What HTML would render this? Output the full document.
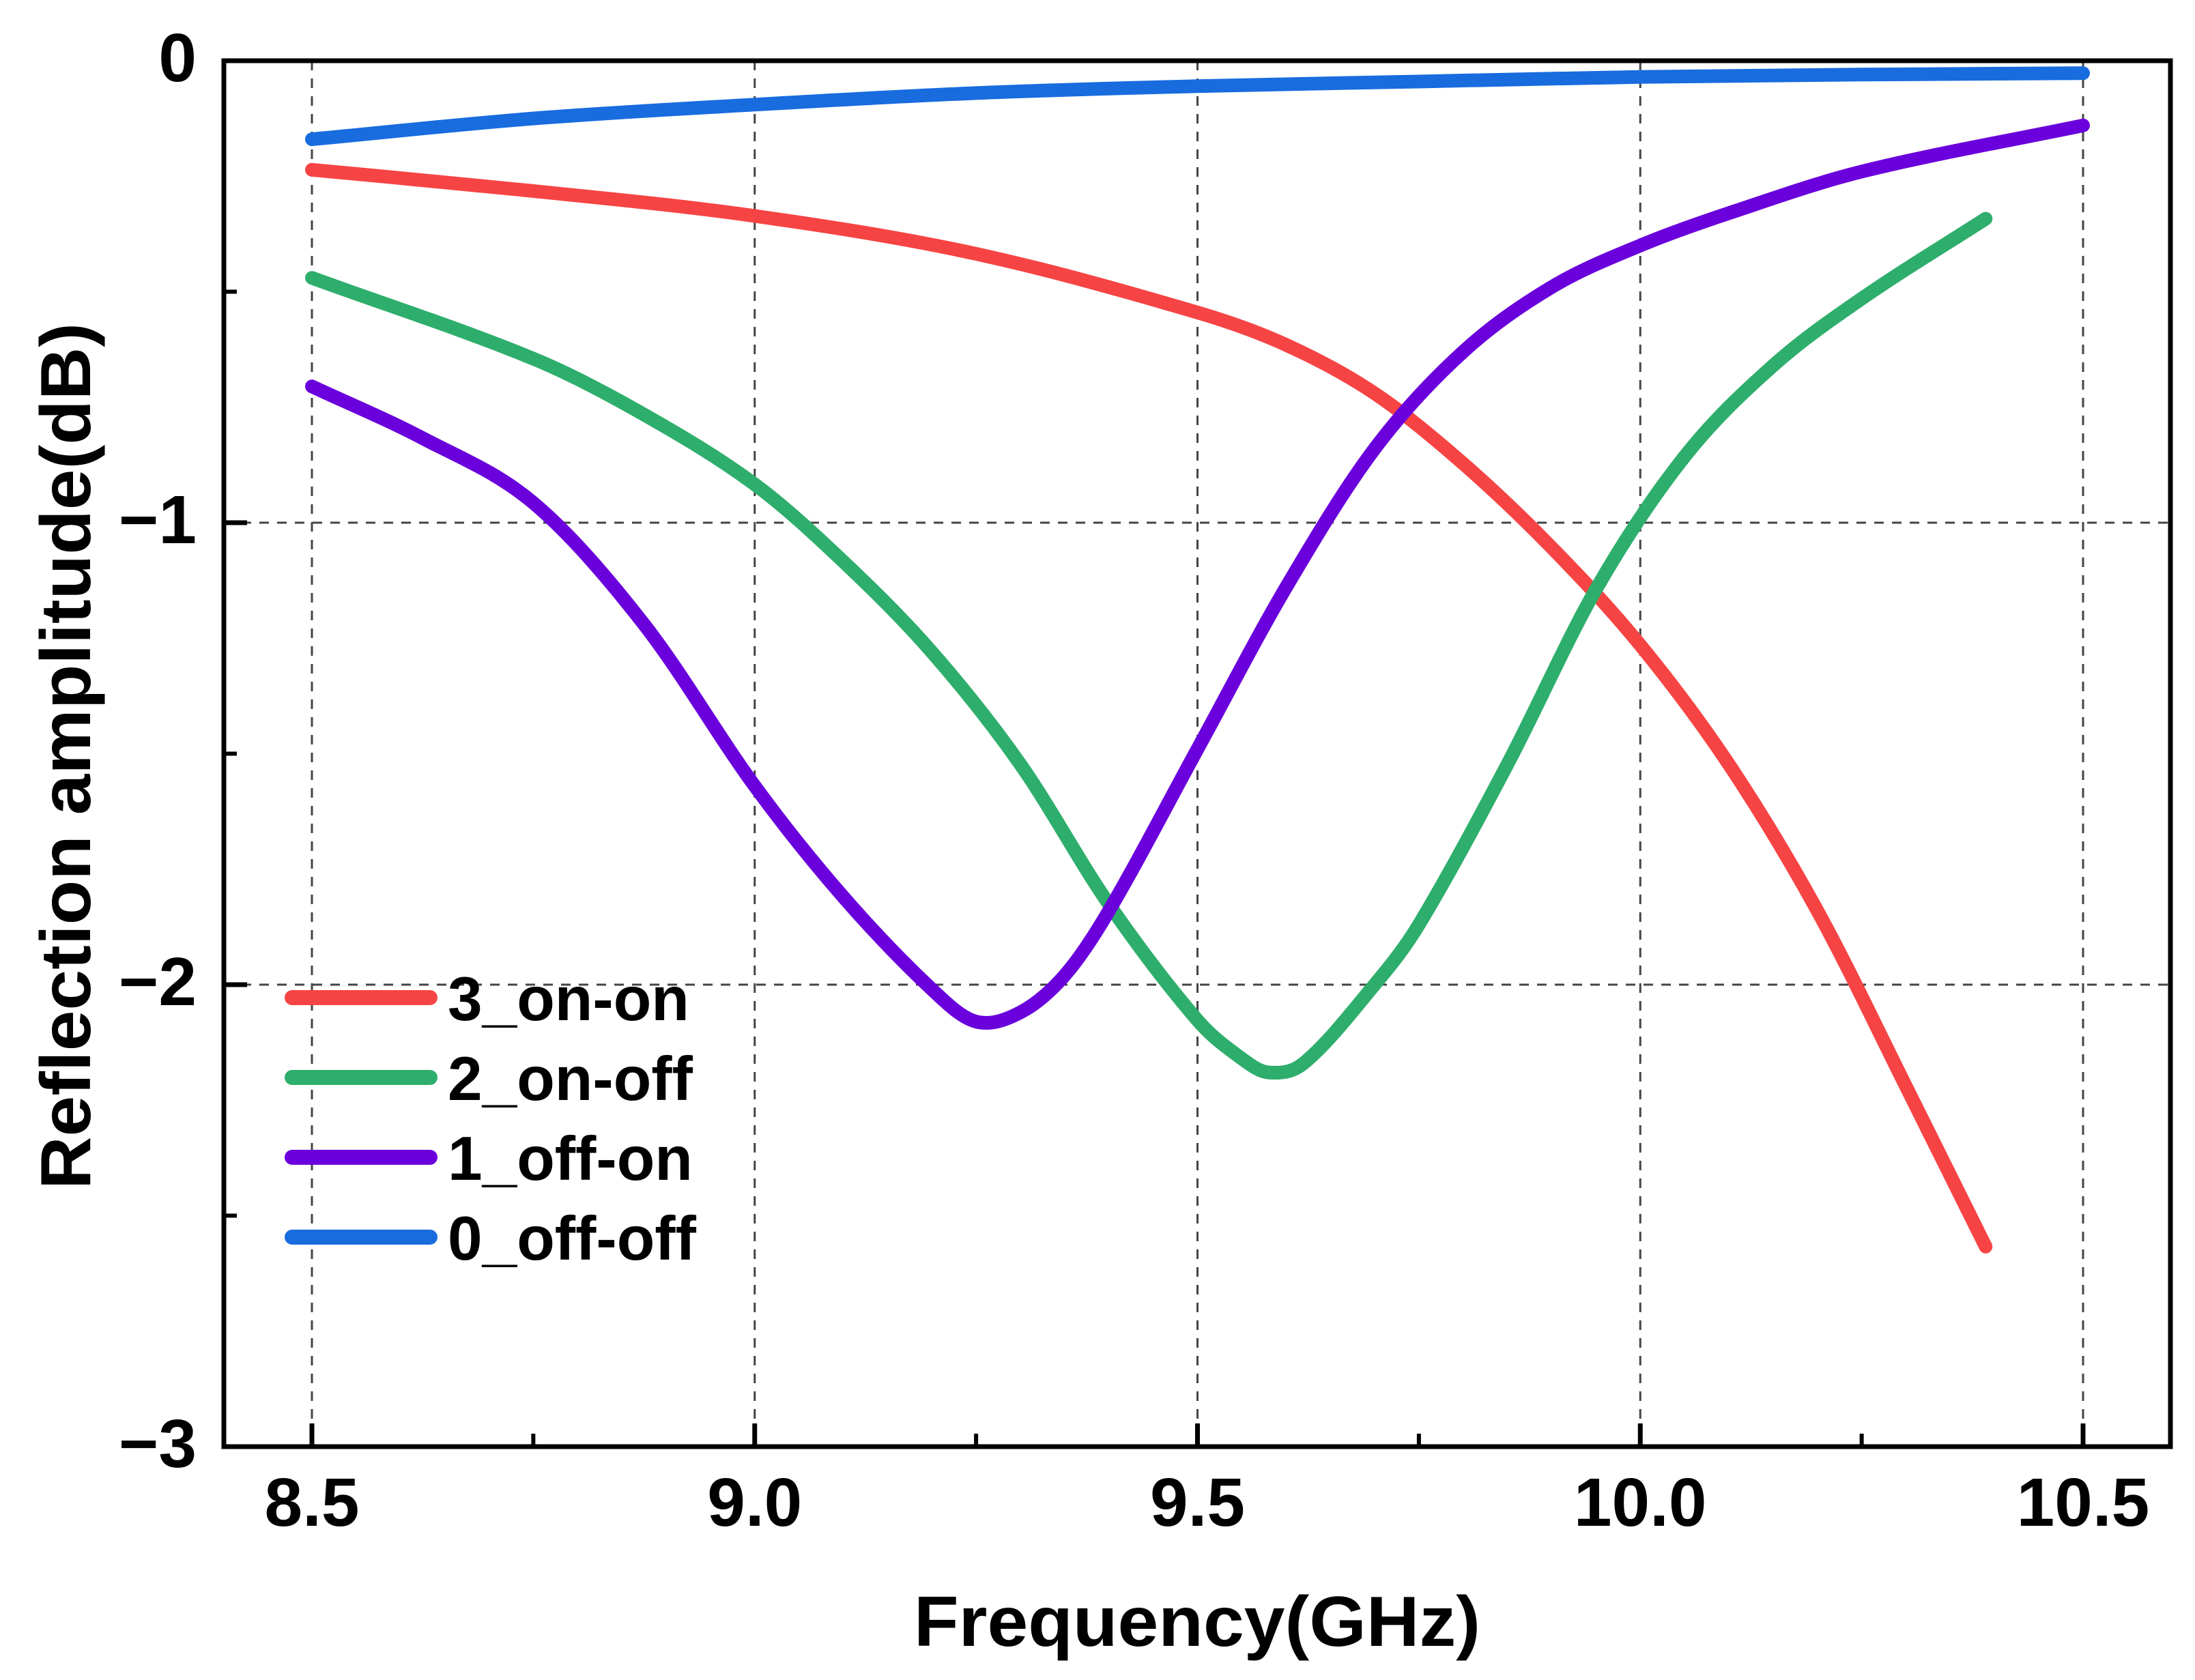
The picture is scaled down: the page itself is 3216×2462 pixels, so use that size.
<!DOCTYPE html>
<html><head><meta charset="utf-8"><style>
html,body{margin:0;padding:0;background:#fff}
svg{display:block}
text{font-family:"Liberation Sans",Arial,sans-serif;font-weight:bold;fill:#000}
</style></head><body>
<svg id="chart" width="3216" height="2462" viewBox="0 0 3216 2462" xmlns="http://www.w3.org/2000/svg">
<g id="grid"></g>
<g id="series"></g>
<g id="axes"></g>
<g id="legend"></g>
<text x="1754" y="2412" font-size="104" text-anchor="middle" textLength="830" lengthAdjust="spacingAndGlyphs">Frequency(GHz)</text>
<text transform="translate(132,1108) rotate(-90)" x="0" y="0" font-size="104" text-anchor="middle" textLength="1270" lengthAdjust="spacingAndGlyphs">Reflection amplitude(dB)</text>
</svg>
<script>
const xTicks=[8.5,9.0,9.5,10.0,10.5];
const xTickLabels=["8.5","9.0","9.5","10.0","10.5"];
const xMinor=[8.75,9.25,9.75,10.25];
const yTicks=[0,-1,-2,-3];
const yTickLabels=["0","\u22121","\u22122","\u22123"];
const yMinor=[-0.5,-1.5,-2.5];
const seriesNames=["3_on-on","2_on-off","1_off-on","0_off-off"];
const seriesColors=["#f64444","#2eae6c","#6a00dc","#186cde"];
const redX=[8.5,8.75,9.0,9.25,9.5,9.6,9.7,9.8,9.9,10.0,10.1,10.2,10.3,10.39];
const redY=[-0.236,-0.282,-0.336,-0.418,-0.545,-0.615,-0.72,-0.872,-1.054,-1.265,-1.523,-1.84,-2.22,-2.567];
const greenX=[8.5,8.75,8.875,9.0,9.1,9.2,9.3,9.4,9.5,9.55,9.58,9.62,9.7,9.75,9.85,9.95,10.05,10.15,10.25,10.39];
const greenY=[-0.47,-0.645,-0.766,-0.917,-1.084,-1.28,-1.523,-1.826,-2.077,-2.16,-2.19,-2.17,-2.0,-1.87,-1.523,-1.144,-0.857,-0.66,-0.515,-0.342];
const purpleX=[8.5,8.625,8.75,8.875,9.0,9.1,9.2,9.25,9.3,9.35,9.4,9.5,9.6,9.7,9.8,9.9,10.0,10.1,10.25,10.5];
const purpleY=[-0.705,-0.817,-0.957,-1.22,-1.57,-1.81,-2.01,-2.08,-2.06,-1.98,-1.84,-1.49,-1.14,-0.84,-0.63,-0.49,-0.40,-0.33,-0.24,-0.14];
const blueX=[8.5,8.75,9.0,9.25,9.5,9.75,10.0,10.25,10.5];
const blueY=[-0.17,-0.125,-0.095,-0.07,-0.055,-0.045,-0.035,-0.03,-0.027];

const NS="http://www.w3.org/2000/svg";
const L=328,R=3180,T=89,B=2120;
const xs=v=>457+(v-8.5)*1297.5;
const ys=v=>T+(-v)*(B-T)/3;
function mk(tag,attrs,parent){const e=document.createElementNS(NS,tag);for(const k in attrs)e.setAttribute(k,attrs[k]);parent.appendChild(e);return e;}
const grid=document.getElementById('grid'),axes=document.getElementById('axes'),ser=document.getElementById('series'),leg=document.getElementById('legend');
xTicks.forEach((v,i)=>{
  const g=mk('line',{x1:xs(v),x2:xs(v),y1:T,y2:B,stroke:'#444','stroke-width':3,'stroke-dasharray':'14 12'},grid);
  
  
  const t=mk('line',{x1:xs(v),x2:xs(v),y1:B,y2:B-34,stroke:'#000','stroke-width':7},axes);
  
  
  const lb=mk('text',{x:xs(v),y:2236,'font-size':100,'text-anchor':'middle'},axes);
  lb.textContent=xTickLabels[i];
  
  
});
xMinor.forEach(v=>{
  const t=mk('line',{x1:xs(v),x2:xs(v),y1:B,y2:B-19,stroke:'#000','stroke-width':6},axes);
  
  
});
yTicks.forEach((v,i)=>{
  if(v!==0&&v!==-3){
    const g=mk('line',{x1:L,x2:R,y1:ys(v),y2:ys(v),stroke:'#444','stroke-width':3,'stroke-dasharray':'14 12'},grid);
    
    
  }
  const t=mk('line',{x1:L,x2:L+34,y1:ys(v),y2:ys(v),stroke:'#000','stroke-width':7},axes);
  
  
  const lb=mk('text',{x:288,y:ys(v)+30,'font-size':100,'text-anchor':'end'},axes);
  lb.textContent=yTickLabels[i];
  
  
});
yMinor.forEach(v=>{
  const t=mk('line',{x1:L,x2:L+19,y1:ys(v),y2:ys(v),stroke:'#000','stroke-width':6},axes);
  
  
});
const fr=mk('rect',{x:L,y:T,width:R-L,height:B-T,fill:'none',stroke:'#000','stroke-width':7},axes);


function smooth(X,Y){
  const p=X.map((x,i)=>[xs(x),ys(Y[i])]);
  let d='M'+p[0][0]+','+p[0][1];
  for(let i=0;i<p.length-1;i++){
    const p0=p[i-1]||p[i],p1=p[i],p2=p[i+1],p3=p[i+2]||p2;
    const h=p2[0]-p1[0];
    const s1=(p2[1]-p0[1])/((p2[0]-p0[0])||1);
    const s2=(p3[1]-p1[1])/((p3[0]-p1[0])||1);
    const c1=[p1[0]+h/3,p1[1]+s1*h/3];
    const c2=[p2[0]-h/3,p2[1]-s2*h/3];
    d+=' C'+c1+' '+c2+' '+p2;
  }
  return d;
}
const data=[[redX,redY],[greenX,greenY],[purpleX,purpleY],[blueX,blueY]];
const lineNames=['line-3-on-on','line-2-on-off','line-1-off-on','line-0-off-off'];
data.forEach((s,i)=>{
  const p=mk('path',{d:smooth(s[0],s[1]),fill:'none',stroke:seriesColors[i],'stroke-width':20,'stroke-linecap':'round','stroke-linejoin':'round'},ser);
  
  
});
const legY=[1462,1579,1696,1813];
seriesNames.forEach((n,i)=>{
  const l=mk('line',{x1:428,x2:630,y1:legY[i],y2:legY[i],stroke:seriesColors[i],'stroke-width':22,'stroke-linecap':'round'},leg);
  
  
  const t=mk('text',{x:656,y:legY[i]+33,'font-size':91},leg);
  t.textContent=n;
  
  
});
</script>
</body></html>
